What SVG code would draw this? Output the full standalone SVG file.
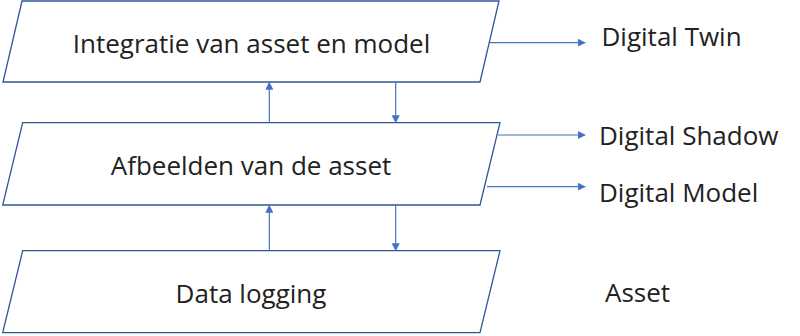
<svg xmlns="http://www.w3.org/2000/svg" width="800" height="336" viewBox="0 0 800 336">
<style>
.shape{fill:#ffffff;stroke:#2f5597;stroke-width:1.3}
.lbl{font-family:"Open Sans","Liberation Sans",sans-serif;font-size:26px;fill:#222222}
.conn{stroke:#4472c4;stroke-width:1.2;fill:none;marker-end:url(#ah)}
</style>
<defs>
<marker id="ah" viewBox="0 0 10 10" refX="9" refY="5" markerWidth="8" markerHeight="8" markerUnits="userSpaceOnUse" orient="auto">
<path d="M0,0 L10,5 L0,10 z" fill="#4472c4"/>
</marker>
</defs>
<rect width="800" height="336" fill="#ffffff"/>
<g id="node-integratie">
<polygon class="shape" points="22,1 499,1 480,82 3,82"/>
<text class="lbl" x="251.5" y="53" text-anchor="middle">Integratie van asset en model</text>
</g>
<g id="node-afbeelden">
<polygon class="shape" points="22.7,122.7 500,122.7 480,205 2.7,205"/>
<text class="lbl" x="251" y="175" text-anchor="middle">Afbeelden van de asset</text>
</g>
<g id="node-data">
<polygon class="shape" points="22.7,250.7 500,250.7 480,332.7 2.7,332.7"/>
<text class="lbl" x="251" y="303" text-anchor="middle">Data logging</text>
</g>
<g id="connectors">
<line class="conn" x1="269.3" y1="122.7" x2="269.3" y2="82.5"/>
<line class="conn" x1="395.7" y1="82" x2="395.7" y2="122.5"/>
<line class="conn" x1="269.3" y1="250.7" x2="269.3" y2="205.5"/>
<line class="conn" x1="395.7" y1="205" x2="395.7" y2="250.5"/>
<line class="conn" x1="490" y1="42.7" x2="585" y2="42.7"/>
<line class="conn" x1="498" y1="135" x2="585" y2="135"/>
<line class="conn" x1="487" y1="186.7" x2="585" y2="186.7"/>
</g>
<g id="labels">
<text class="lbl" x="601.5" y="46">Digital Twin</text>
<text class="lbl" x="599" y="145">Digital Shadow</text>
<text class="lbl" x="599" y="201.5">Digital Model</text>
<text class="lbl" x="605" y="301.5">Asset</text>
</g>
</svg>
